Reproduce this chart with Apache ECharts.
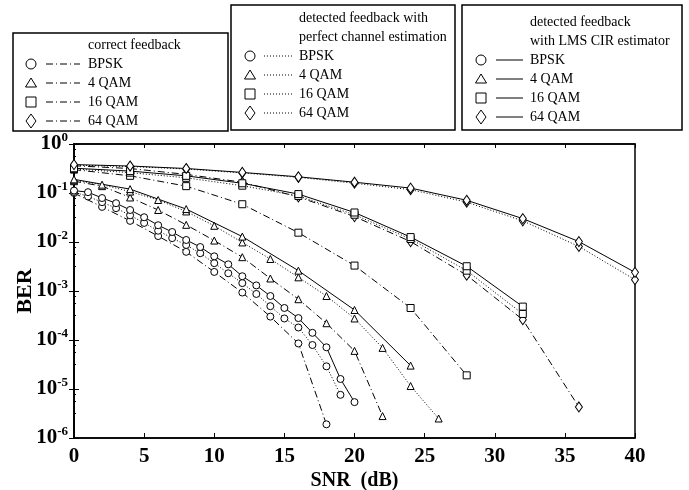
<!DOCTYPE html>
<html>
<head>
<meta charset="utf-8">
<script src="https://cdn.jsdelivr.net/npm/echarts@6/dist/echarts.min.js"></script>
<style>
html,body{margin:0;padding:0;background:#fff}
#chart{width:689px;height:490px}
</style>
</head>
<body>
<div id="chart"></div>
<script>
// SNR (dB) points of each curve
var snrStep1To20 = [0,1,2,3,4,5,6,7,8,9,10,11,12,13,14,15,16,17,18,19,20];
var snrStep1To19 = [0,1,2,3,4,5,6,7,8,9,10,11,12,13,14,15,16,17,18,19];
var snrStep2To18 = [0,2,4,6,8,10,12,14,16,18];
var snrStep2To22 = [0,2,4,6,8,10,12,14,16,18,20,22];
var snrStep2To26 = [0,2,4,6,8,10,12,14,16,18,20,22,24,26];
var snrStep4To24 = [0,4,8,12,16,20,24];
var snrStep4To28 = [0,4,8,12,16,20,24,28];
var snrStep4To32 = [0,4,8,12,16,20,24,28,32];
var snrStep4To36 = [0,4,8,12,16,20,24,28,32,36];
var snrStep4To40 = [0,4,8,12,16,20,24,28,32,36,40];

// BER, correct feedback (dash-dot)
var berBpskCorrect = [0.100,0.052,0.027,0.0132,0.0063,0.00245,9.3e-4,3.0e-4,8.5e-5,1.9e-6];
var ber4qamCorrect = [0.174,0.138,0.081,0.045,0.0224,0.0107,0.0049,0.0018,6.8e-4,2.2e-4,6.0e-5,2.8e-6];
var ber16qamCorrect = [0.30,0.224,0.138,0.059,0.0155,0.0033,4.5e-4,1.9e-5];
var ber64qamCorrect = [0.36,0.316,0.24,0.166,0.083,0.033,0.0102,0.0021,2.6e-4,4.3e-6];

// BER, detected feedback with perfect channel estimation (dotted)
var berBpskPerfect = [0.105,0.085,0.065,0.049,0.035,0.0245,0.017,0.012,0.0087,0.0059,0.0037,0.0023,0.00145,8.7e-4,4.9e-4,2.75e-4,1.8e-4,7.9e-5,2.9e-5,7.6e-6];
var ber4qamPerfect = [0.182,0.148,0.107,0.072,0.042,0.0214,0.0098,0.0045,0.0019,7.9e-4,2.75e-4,6.9e-5,1.15e-5,2.5e-6];
var ber16qamPerfect = [0.31,0.26,0.204,0.141,0.087,0.036,0.0115,0.0026,3.4e-4];
var ber64qamPerfect = [0.37,0.347,0.309,0.257,0.209,0.158,0.117,0.065,0.027,0.0081,0.0017];

// BER, detected feedback with LMS CIR estimator (solid)
var berBpskLms = [0.112,0.104,0.079,0.062,0.045,0.032,0.022,0.016,0.011,0.0079,0.0051,0.0035,0.0020,0.0013,7.9e-4,4.5e-4,2.8e-4,1.4e-4,7.1e-5,1.6e-5,5.4e-6];
var ber4qamLms = [0.19,0.12,0.047,0.0129,0.0026,4.1e-4,3.0e-5];
var ber16qamLms = [0.32,0.28,0.224,0.158,0.095,0.040,0.0126,0.0032,4.8e-4];
var ber64qamLms = [0.38,0.355,0.316,0.263,0.214,0.166,0.126,0.071,0.030,0.0102,0.0024];

var xTicks = [0,5,10,15,20,25,30,35,40];

var DASHDOT = [7,3,1,3];
var DOTTED = [1,2];
var SOLID = 'solid';

function pairs(xs, ys) {
    var out = [];
    for (var i = 0; i < xs.length; i++) out.push([xs[i], ys[i]]);
    return out;
}

function curve(name, xs, ys, symbol, size, dash) {
    return {
        name: name,
        type: 'line',
        data: pairs(xs, ys),
        symbol: symbol,
        symbolSize: size,
        showAllSymbol: true,
        lineStyle: {color: '#000', width: 1, type: dash},
        itemStyle: {color: '#fff', borderColor: '#000', borderWidth: 1},
        emphasis: {disabled: true}
    };
}

var SERIF = 'Liberation Serif';

// legend boxes drawn as graphics
function legendBox(x, y, w, h, heads, headY, rowY, mx, lx1, lx2, tx, dash) {
    var els = [{
        type: 'rect', shape: {x: x, y: y, width: w, height: h},
        style: {fill: '#fff', stroke: '#000', lineWidth: 1.5}
    }];
    heads.forEach(function (t, i) {
        els.push({type: 'text', x: tx, y: headY + i * 19,
            style: {text: t, font: '14px ' + SERIF, fill: '#000', verticalAlign: 'middle'}});
    });
    var labels = ['BPSK', '4 QAM', '16 QAM', '64 QAM'];
    labels.forEach(function (t, i) {
        var cy = rowY + i * 19;
        var mk;
        if (i === 0) mk = {type: 'circle', shape: {cx: mx, cy: cy, r: 5}};
        else if (i === 1) mk = {type: 'polygon', shape: {points: [[mx, cy - 5], [mx + 5.5, cy + 4], [mx - 5.5, cy + 4]]}};
        else if (i === 2) mk = {type: 'rect', shape: {x: mx - 5, y: cy - 5, width: 10, height: 10}};
        else mk = {type: 'polygon', shape: {points: [[mx, cy - 7], [mx + 5, cy], [mx, cy + 7], [mx - 5, cy]]}};
        mk.style = {fill: '#fff', stroke: '#000', lineWidth: 1};
        els.push(mk);
        els.push({type: 'line', shape: {x1: lx1, y1: cy, x2: lx2, y2: cy},
            style: {stroke: '#000', lineWidth: 1, lineDash: dash === SOLID ? null : dash}});
        els.push({type: 'text', x: tx, y: cy,
            style: {text: t, font: '14px ' + SERIF, fill: '#000', verticalAlign: 'middle'}});
    });
    return els;
}

var myChart = echarts.init(document.getElementById('chart'));

var graphics = []
    .concat(legendBox(13, 33, 215, 98, ['correct feedback'], 45, 64, 31, 46, 80, 88, DASHDOT))
    .concat(legendBox(231, 5, 224, 125, ['detected feedback with', 'perfect channel estimation'], 18, 56, 250, 264, 292, 299, DOTTED))
    .concat(legendBox(462, 5, 220, 125, ['detected feedback', 'with LMS CIR estimator'], 22, 60, 481, 496, 523, 530, SOLID));

var option = {
    animation: false,
    backgroundColor: '#fff',
    grid: {left: 74, right: 54, top: 144, bottom: 52, outerBoundsMode: 'none', containLabel: false,
        show: true, borderColor: '#000', borderWidth: 1.5},
    xAxis: [{
        type: 'value', min: 0, max: 40, interval: 5,
        name: 'SNR  (dB)', nameLocation: 'middle', nameGap: 33, nameMoveOverlap: false,
        nameTextStyle: {fontFamily: SERIF, fontWeight: 'bold', fontSize: 20, color: '#000'},
        axisLine: {lineStyle: {color: '#000', width: 1.5}},
        axisTick: {inside: true, length: 5, lineStyle: {color: '#000'}},
        axisLabel: {fontFamily: SERIF, fontWeight: 'bold', fontSize: 21, color: '#000', margin: 8,
            formatter: function (v) { return xTicks.indexOf(v) >= 0 ? String(v) : ''; }},
        splitLine: {show: false}
    }, {
        type: 'value', min: 0, max: 40, interval: 5, position: 'top',
        axisLine: {lineStyle: {color: '#000', width: 1.5}},
        axisTick: {inside: true, length: 4, lineStyle: {color: '#000'}},
        axisLabel: {show: false}, splitLine: {show: false}
    }],
    yAxis: [{
        type: 'log', logBase: 10, min: 1e-6, max: 1,
        name: 'BER', nameLocation: 'middle', nameGap: 38, nameRotate: 90, nameMoveOverlap: false,
        nameTextStyle: {fontFamily: SERIF, fontWeight: 'bold', fontSize: 22, color: '#000'},
        axisLine: {lineStyle: {color: '#000', width: 1.5}},
        axisTick: {inside: true, length: 5, lineStyle: {color: '#000'}},
        minorTick: {show: true, splitNumber: 4, length: 2, lineStyle: {color: '#000'}},
        axisLabel: {
            margin: 6,
            formatter: function (v) {
                var e = Math.round(Math.log(v) / Math.LN10);
                return '{b|10}{s|' + e + '}';
            },
            rich: {
                b: {fontFamily: SERIF, fontWeight: 'bold', fontSize: 21, color: '#000'},
                s: {fontFamily: SERIF, fontWeight: 'bold', fontSize: 13, color: '#000', padding: [0, 0, 12, 0]}
            }
        },
        splitLine: {show: false}
    }, {
        type: 'log', logBase: 10, min: 1e-6, max: 1, position: 'right',
        axisLine: {lineStyle: {color: '#000', width: 1.5}},
        axisTick: {inside: true, length: 5, lineStyle: {color: '#000'}},
        axisLabel: {show: false}, splitLine: {show: false}
    }],
    graphic: graphics,
    series: [
        curve('BPSK correct', snrStep2To18, berBpskCorrect, 'circle', 7, DASHDOT),
        curve('4QAM correct', snrStep2To22, ber4qamCorrect, 'triangle', 7, DASHDOT),
        curve('16QAM correct', snrStep4To28, ber16qamCorrect, 'rect', 7, DASHDOT),
        curve('64QAM correct', snrStep4To36, ber64qamCorrect, 'diamond', [7, 10], DASHDOT),
        curve('BPSK perfect', snrStep1To19, berBpskPerfect, 'circle', 7, DOTTED),
        curve('4QAM perfect', snrStep2To26, ber4qamPerfect, 'triangle', 7, DOTTED),
        curve('16QAM perfect', snrStep4To32, ber16qamPerfect, 'rect', 7, DOTTED),
        curve('64QAM perfect', snrStep4To40, ber64qamPerfect, 'diamond', [7, 10], DOTTED),
        curve('BPSK LMS', snrStep1To20, berBpskLms, 'circle', 7, SOLID),
        curve('4QAM LMS', snrStep4To24, ber4qamLms, 'triangle', 7, SOLID),
        curve('16QAM LMS', snrStep4To32, ber16qamLms, 'rect', 7, SOLID),
        curve('64QAM LMS', snrStep4To40, ber64qamLms, 'diamond', [7, 10], SOLID)
    ]
};

myChart.setOption(option);
window.addEventListener('resize', function () {
    myChart.resize();
});
</script>
</body>
</html>
